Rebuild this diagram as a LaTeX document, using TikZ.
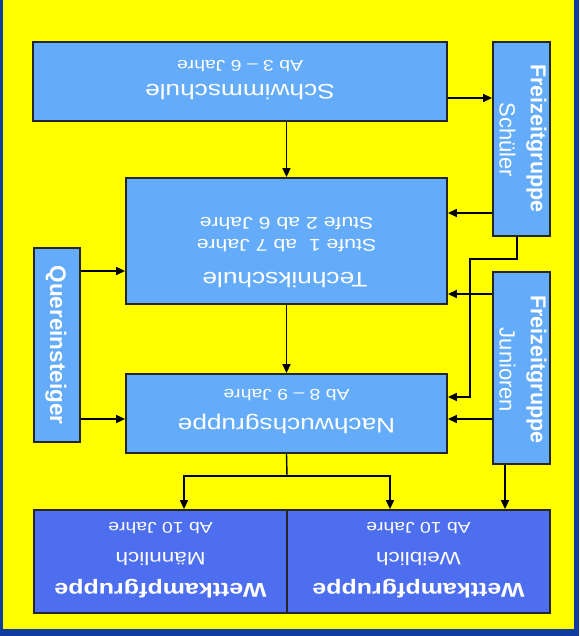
\documentclass[tikz,border=0pt]{standalone}
\usepackage{fontspec}
\setmainfont{Liberation Sans}
\usepackage{graphicx}
\usetikzlibrary{arrows.meta,calc}
\definecolor{frameblue}{RGB}{16,60,160}
\definecolor{bgyellow}{RGB}{255,255,0}
\definecolor{lightbox}{RGB}{100,172,250}
\definecolor{darkbox}{RGB}{78,110,240}
\newcommand{\fsz}[1]{\fontsize{#1}{#1}\selectfont}
\newcommand{\hx}[1]{\scalebox{1.25}[1]{#1}}
\begin{document}
\begin{tikzpicture}[x=1pt,y=-1pt,
  boxL/.style={rectangle, draw=black!85, line width=1.8pt, fill=lightbox, inner sep=0pt},
  boxD/.style={boxL, fill=darkbox},
  htext/.style={text=white, rotate=180, inner sep=0pt},
  vtext/.style={text=white, rotate=-90, inner sep=0pt},
  arr/.style={line width=1.4pt, -{Triangle[length=9pt,width=8pt]}},
  ln/.style={line width=1.4pt}]
\useasboundingbox (0,0) rectangle (579,636);
\fill[frameblue] (0,0) rectangle (579,636);
\fill[bgyellow] (3,0) rectangle (574,629);

% boxes
\node[boxL, minimum width=414pt, minimum height=79pt] (schwimm) at (240,81.5) {};
\node[boxL, minimum width=321pt, minimum height=126pt] (technik) at (286.5,241) {};
\node[boxL, minimum width=321pt, minimum height=79pt] (nachw) at (286.5,413.5) {};
\node[boxL, minimum width=57pt, minimum height=194pt] (schueler) at (521.5,139) {};
\node[boxL, minimum width=57pt, minimum height=192pt] (junioren) at (521.5,368) {};
\node[boxL, minimum width=46pt, minimum height=194pt] (quer) at (57,345) {};
\node[boxD, minimum width=253pt, minimum height=103pt] (wkm) at (160.5,561.5) {};
\node[boxD, minimum width=263pt, minimum height=103pt] (wkw) at (418.5,561.5) {};

% texts (upside down)
\node[htext, font=\fsz{15.5}] (schwimm2) at (240,66.5) {\hx{Ab 3 – 6 Jahre}};
\node[htext, font=\fsz{21}] (schwimm1) at (240,92.5) {\hx{Schwimmschule}};
\node[htext, font=\fsz{17}] (technik3) at (286.5,223.5) {\hx{Stufe 2 ab 6 Jahre}};
\node[htext, font=\fsz{17}] (technik2) at (286.5,245.5) {\hx{Stufe 1\ \ ab 7 Jahre}};
\node[htext, font=\fsz{21}] (technik1) at (285,280) {\hx{Technikschule}};
\node[htext, font=\fsz{15.5}] (nachw2) at (286.5,395) {\hx{Ab 8 – 9 Jahre}};
\node[htext, font=\fsz{21}] (nachw1) at (286.5,423.5) {\hx{Nachwuchsgruppe}};
\node[htext, font=\fsz{15.5}] (wkm3) at (160.5,528) {\hx{Ab 10 Jahre}};
\node[htext, font=\fsz{18}] (wkm2) at (160.5,559) {\hx{Männlich}};
\node[htext, font=\bfseries\fsz{20}] (wkm1) at (160.5,588.5) {\hx{Wettkampfgruppe}};
\node[htext, font=\fsz{15.5}] (wkw3) at (418.5,528) {\hx{Ab 10 Jahre}};
\node[htext, font=\fsz{18}] (wkw2) at (418.5,559) {\hx{Weiblich}};
\node[htext, font=\bfseries\fsz{20}] (wkw1) at (418.5,588.5) {\hx{Wettkampfgruppe}};

% vertical texts
\node[vtext, font=\bfseries\fsz{21.5}] (schueler1) at (536.5,138.5) {Freizeitgruppe};
\node[vtext, font=\fsz{22}] (schueler2) at (507.5,140) {Schüler};
\node[vtext, font=\bfseries\fsz{21.5}] (junioren1) at (536.5,369.5) {Freizeitgruppe};
\node[vtext, font=\fsz{22}] (junioren2) at (507.5,370) {Junioren};
\node[vtext, font=\bfseries\fsz{22.5}] (quer1) at (56,345) {Quereinsteiger};

% helper coordinates
\coordinate (s1) at ([yshift=-16.5pt]schwimm.east);
\coordinate (t1) at ([yshift=28pt]technik.east);
\coordinate (t2) at ([yshift=-53pt]technik.east);
\coordinate (t3) at ([yshift=-30pt]technik.west);
\coordinate (n1) at ([yshift=16.5pt]nachw.east);
\coordinate (n2) at ([yshift=-5.5pt]nachw.east);
\coordinate (n3) at ([yshift=-5.5pt]nachw.west);
\coordinate (bend) at (470,259);
\coordinate (split) at (287,476);
\coordinate (m1) at ([xshift=23.5pt]wkm.north);
\coordinate (w1) at ([xshift=-28.5pt]wkw.north);
\coordinate (jb) at ([xshift=-16.5pt]junioren.south);

% connectors
\draw[arr] (schwimm.south -| technik.north) -- (technik.north);
\draw[arr] (s1) -- (s1 -| schueler.west);
\draw[arr] (schueler.west |- t1) -- (t1);
\draw[arr] (junioren.west |- t2) -- (t2);
\draw[arr] (quer.east |- t3) -- (t3);
\draw[arr] ([xshift=-4.5pt]schueler.south) |- (bend) |- (n1);
\draw[arr] (technik.south) -- (nachw.north);
\draw[arr] (junioren.west |- n2) -- (n2);
\draw[arr] (quer.east |- n3) -- (n3);
\draw[ln] (nachw.south) -- (split);
\draw[arr] (split) -| (m1);
\draw[arr] (split) -| (w1);
\draw[arr] (jb) -- (jb |- wkw.north);
\end{tikzpicture}
\end{document}
